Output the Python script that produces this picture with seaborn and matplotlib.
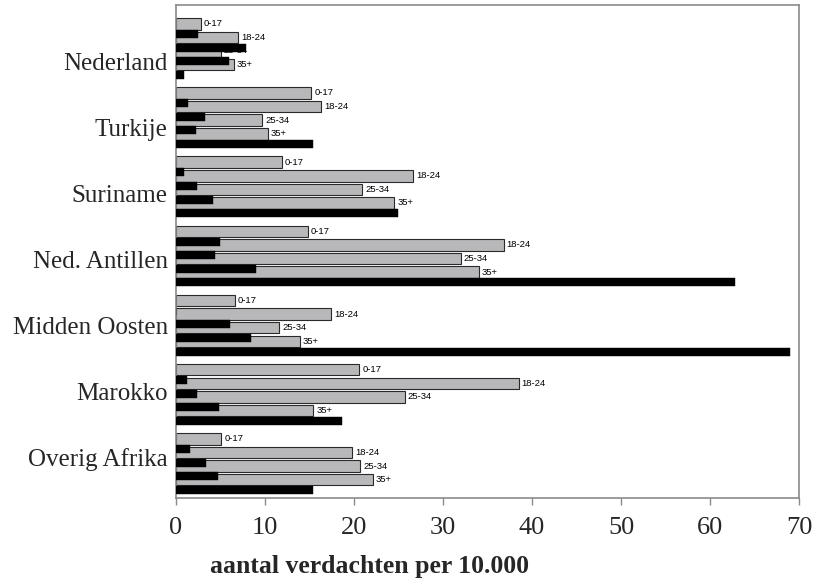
import numpy as np
import pandas as pd
import matplotlib.pyplot as plt
import seaborn as sns

sns.set_theme(style="white")

# data
countries = ["Nederland", "Turkije", "Suriname", "Ned. Antillen",
             "Midden Oosten", "Marokko", "Overig Afrika"]
age_groups = ["0-17", "18-24", "25-34", "35+"]

# grey bars (labelled with the age group)
grey_values = [
    [2.8, 7.0, 5.0, 6.5],
    [15.2, 16.3, 9.7, 10.3],
    [11.9, 26.6, 20.9, 24.5],
    [14.8, 36.8, 32.0, 34.0],
    [6.6, 17.4, 11.6, 13.9],
    [20.6, 38.5, 25.7, 15.4],
    [5.1, 19.8, 20.7, 22.1],
]
# black bars, one under each grey bar
black_values = [
    [2.5, 7.9, 5.9, 0.9],
    [1.4, 3.3, 2.2, 15.4],
    [0.9, 2.4, 4.2, 24.9],
    [4.9, 4.4, 9.0, 62.8],
    [0.0, 6.1, 8.4, 69.0],
    [1.2, 2.4, 4.8, 18.6],
    [1.6, 3.4, 4.7, 15.4],
]

GREY = "#b8b8bb"
FRAME = "#8a8a8a"

# vertical layout, in units of one bar row
group_step = 5.088
grey_pos, black_pos, grey_val, black_val, ages = [], [], [], [], []
for g in range(len(countries)):
    for k in range(len(age_groups)):
        centre = 1.379 + group_step * g + k
        grey_pos.append(centre)
        black_pos.append(centre + 0.754)
        grey_val.append(grey_values[g][k])
        black_val.append(black_values[g][k])
        ages.append(age_groups[k])

df_grey = pd.DataFrame({"pos": grey_pos, "value": grey_val, "age": ages})
df_black = pd.DataFrame({"pos": black_pos, "value": black_val})

fig = plt.figure(figsize=(8.14, 5.83), dpi=100)
ax = fig.add_axes([176 / 814, 1 - 498 / 583, 623 / 814, 493 / 583])

sns.barplot(data=df_grey, x="value", y="pos", orient="y", native_scale=True,
            width=0.846, color=GREY, saturation=1, edgecolor="#2a2a2a",
            linewidth=0.8, errorbar=None, zorder=2, ax=ax)
sns.barplot(data=df_black, x="value", y="pos", orient="y", native_scale=True,
            width=0.588, color="black", saturation=1, edgecolor="black",
            linewidth=0.3, errorbar=None, zorder=4, ax=ax)

for p, v, a in zip(df_grey["pos"], df_grey["value"], df_grey["age"]):
    ax.text(v + 0.35, p, a, fontsize=6.8, family="Liberation Sans",
            va="center", ha="left", color="black", zorder=3)

ax.set_xlim(0, 70)
ax.set_ylim(36.25, 0)
ax.set_xticks(range(0, 71, 10))
ax.set_xticklabels([str(t) for t in range(0, 71, 10)],
                   family="Liberation Serif", fontsize=19)
ax.set_yticks([4.12 + 4.853 * g for g in range(len(countries))])
ax.set_yticklabels(countries, family="Liberation Serif", fontsize=18)
ax.tick_params(axis="x", direction="out", length=5, width=1, color=FRAME,
               pad=9, bottom=True)
ax.tick_params(axis="y", length=0, pad=6)
ax.set_ylabel("")
ax.set_xlabel("aantal verdachten per 10.000", family="Liberation Serif",
              fontsize=18.5, fontweight="bold", va="center")
ax.xaxis.set_label_coords(0.311, -0.138)

for side in ["top", "right", "left", "bottom"]:
    ax.spines[side].set_visible(True)
    ax.spines[side].set_color(FRAME)
    ax.spines[side].set_linewidth(1.2)
ax.grid(False)

fig.savefig("out.png", dpi=100)
